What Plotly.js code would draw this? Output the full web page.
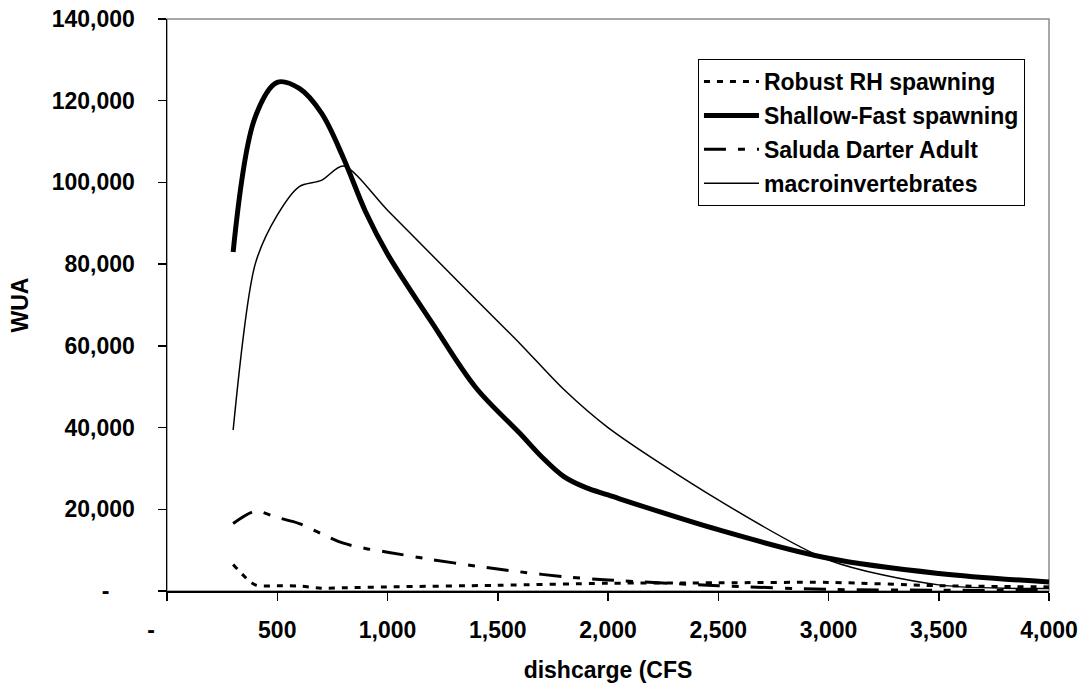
<!DOCTYPE html>
<html>
<head>
<meta charset="utf-8">
<script src="https://cdn.plot.ly/plotly-3.0.1.min.js"></script>
<style>html,body{margin:0;padding:0;background:#fff;}#chart{width:1085px;height:691px;}</style>
</head>
<body>
<div id="chart"></div>
<script>
// Series names
const seriesNames = ["Robust RH spawning", "Shallow-Fast spawning", "Saluda Darter Adult", "macroinvertebrates"];

// Robust RH spawning
const flowRobust = [300, 400, 500, 600, 700, 800, 1000, 1500, 2000, 2500, 3000, 3500, 4000];
const wuaRobust  = [6500, 1500, 1300, 1200, 700, 800, 1000, 1400, 1900, 2000, 2100, 1300, 1000];

// Shallow-Fast spawning
const flowShallow = [300, 400, 500, 600, 700, 800, 900, 1000, 1200, 1400, 1600, 1700, 1800, 1900, 2000, 2500, 3000, 3500, 4000];
const wuaShallow  = [83000, 116000, 124500, 123000, 117000, 106000, 92900, 82500, 65800, 49800, 38600, 32800, 28000, 25300, 23500, 15000, 8000, 4300, 2200];

// Saluda Darter Adult
const flowSaluda = [300, 400, 500, 600, 700, 800, 900, 1000, 1200, 1400, 1600, 1800, 2000, 2500, 3000, 3500, 4000];
const wuaSaluda  = [16500, 19500, 18000, 16500, 14000, 11700, 10400, 9500, 7700, 6100, 4700, 3500, 2700, 1300, 400, 200, 100];

// macroinvertebrates
const flowMacro = [300, 400, 500, 600, 700, 800, 1000, 1200, 1400, 1600, 1800, 2000, 2500, 3000, 3500, 4000];
const wuaMacro  = [39400, 80000, 92000, 99000, 100500, 104000, 93200, 82300, 71400, 60600, 49300, 40000, 22300, 7600, 1500, 600];

// Axis ticks
const xTickVals = [0, 500, 1000, 1500, 2000, 2500, 3000, 3500, 4000];
const xTickText = ["-\u00a0\u00a0\u00a0\u00a0\u00a0", "500", "1,000", "1,500", "2,000", "2,500", "3,000", "3,500", "4,000"];
const yTickVals = [0, 20000, 40000, 60000, 80000, 100000, 120000, 140000];
const yTickText = ["-\u00a0\u00a0\u00a0\u00a0", "20,000", "40,000", "60,000", "80,000", "100,000", "120,000", "140,000"];

const FONT = "Liberation Sans, Arial, sans-serif";
const FS = 23;

const traces = [
  {x: flowRobust, y: wuaRobust, name: seriesNames[0], legendgroup: "a", mode: "lines",
   line: {color: "#000", width: 3, dash: "6px,7px", shape: "spline", smoothing: 0.8}},
  {x: flowShallow, y: wuaShallow, name: seriesNames[1], legendgroup: "b", mode: "lines",
   line: {color: "#000", width: 5, shape: "spline", smoothing: 1}},
  {x: flowSaluda, y: wuaSaluda, name: seriesNames[2], legendgroup: "c", mode: "lines",
   line: {color: "#000", width: 3, dash: "22px,12px,7px,12px", shape: "spline", smoothing: 0.8}},
  {x: flowMacro, y: wuaMacro, name: seriesNames[3], legendgroup: "d", mode: "lines",
   line: {color: "#000", width: 1.5, shape: "spline", smoothing: 0.8}}
];

const layout = {
  width: 1085, height: 691,
  margin: {l: 167, r: 36, t: 19, b: 100, pad: 0},
  paper_bgcolor: "#fff", plot_bgcolor: "#fff",
  font: {family: FONT, size: FS, color: "#000", weight: "bold"},
  showlegend: true,
  legend: {
    x: 0.602, y: 0.93, xanchor: "left", yanchor: "top",
    bgcolor: "#fff", bordercolor: "#000", borderwidth: 1,
    font: {family: FONT, size: FS, color: "#000", weight: "bold"},
    traceorder: "grouped", tracegroupgap: 1, itemwidth: 55
  },
  xaxis: {
    range: [0, 4000], tickmode: "array", tickvals: xTickVals, ticktext: xTickText,
    showgrid: false, zeroline: false, showline: true, linecolor: "#000", linewidth: 1.5,
    ticks: "outside", ticklen: 8, tickcolor: "#000", tickwidth: 1.5,
    tickfont: {family: FONT, size: FS, color: "#000", weight: "bold"},
    ticklabelstandoff: 10,
    title: {text: "dishcarge (CFS", font: {family: FONT, size: FS, color: "#000", weight: "bold"}, standoff: 20},
    fixedrange: true
  },
  yaxis: {
    range: [0, 140000], tickmode: "array", tickvals: yTickVals, ticktext: yTickText,
    showgrid: false, zeroline: false, showline: true, linecolor: "#000", linewidth: 1.5,
    ticks: "outside", ticklen: 8, tickcolor: "#000", tickwidth: 1.5,
    tickfont: {family: FONT, size: FS, color: "#000", weight: "bold"},
    ticklabelstandoff: 18,
    title: {text: "WUA", font: {family: FONT, size: FS, color: "#000", weight: "bold"}, standoff: 16},
    fixedrange: true
  },
  shapes: [
    {type: "rect", xref: "paper", yref: "paper", x0: 0, x1: 1, y0: 0, y1: 1,
     line: {color: "#8c8c8c", width: 1.5}, layer: "below"}
  ]
};

Plotly.newPlot("chart", traces, layout, {displayModeBar: false, staticPlot: true});
</script>
</body>
</html>
